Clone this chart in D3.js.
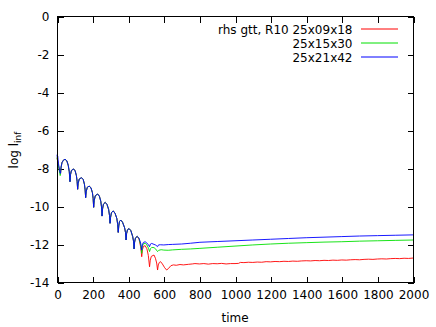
<!DOCTYPE html>
<html><head><meta charset="utf-8">
<script src="https://cdn.jsdelivr.net/npm/d3@7"></script>
<style>
html,body{margin:0;padding:0;background:#fff;}
svg{display:block;}
text{font-family:"DejaVu Sans",sans-serif;font-size:12px;fill:#000;}
</style></head>
<body>
<script>
const xTicks = [0,200,400,600,800,1000,1200,1400,1600,1800,2000];
const yTicks = [0,-2,-4,-6,-8,-10,-12,-14];
const seriesNames = ["rhs gtt, R10 25x09x18","25x15x30","25x21x42"];
const seriesColors = ["#ff0000","#00e000","#0000ff"];

// shared oscillating decay
const early = [[20,-8.28],[23,-7.95],[28,-7.72],[35,-7.6],[45,-7.54],[55,-7.62],[63,-7.85],[69,-8.2],[73,-8.72],
[76,-8.35],[81,-8.13],[93,-8.05],[102,-8.15],[109,-8.4],[113,-8.7],[116,-9.12],
[119,-8.8],[125,-8.58],[138,-8.51],[147,-8.6],[154,-8.85],[158,-9.15],[161,-9.56],
[164,-9.25],[170,-9.02],[181,-8.95],[191,-9.05],[199,-9.3],[203,-9.6],[206,-10.07],
[209,-9.72],[215,-9.46],[228,-9.37],[238,-9.48],[246,-9.75],[250,-10.05],[253,-10.53],
[256,-10.15],[261,-9.9],[271,-9.81],[281,-9.92],[290,-10.18],[295,-10.5],[298,-10.91],
[301,-10.6],[306,-10.35],[316,-10.26],[326,-10.38],[336,-10.65],[341,-10.97],[344,-11.39],
[347,-11.05],[351,-10.82],[358,-10.74],[368,-10.85],[380,-11.15],[385,-11.4],[388,-11.79],
[391,-11.45],[396,-11.25],[405,-11.19],[415,-11.3],[425,-11.6],[430,-11.85],[433,-12.26],
[436,-11.9],[441,-11.68],[451,-11.6]];

const redStart = [[0,-7.5],[4,-7.6],[10,-7.95],[16,-8.2]];
const greenStart = [[0,-7.45],[5,-7.7],[12,-8.1],[18,-8.4]];
const blueStart = [[0,-7.3],[2,-7.45],[4,-7.38],[8,-7.75],[14,-8.1],[18,-8.28]];

const redTail = [[461,-11.75],[470,-12.15],[476,-12.67],[480,-12.3],[486,-12.12],[495,-12.09],[505,-12.25],[513,-12.6],[520,-13.2],[524,-12.85],[530,-12.65],[545,-12.58],[553,-12.75],[560,-13.0],[565,-13.37],[569,-13.1],[575,-12.97],[582,-12.93],[592,-13.05],[605,-13.25],[616,-13.37],[625,-13.3],[640,-13.14],[654,-13.1],[670,-13.12],[691,-13.08],[710,-13.1],[738,-13.07],[760,-13.05],[775,-13.03],[800,-13.05],[825,-13.03],[850,-13.06],[875,-13.03],[900,-13.04],[925,-13.02],[950,-13.05],[975,-13.03],[1000,-13.03],[1020,-13.02],[1030,-12.97],[1050,-12.98],[1075,-12.96],[1100,-12.97],[1125,-12.95],[1150,-12.96],[1175,-12.93],[1200,-12.94],[1225,-12.92],[1250,-12.93],[1275,-12.91],[1300,-12.92],[1325,-12.9],[1350,-12.91],[1375,-12.89],[1400,-12.88],[1425,-12.89],[1450,-12.87],[1475,-12.88],[1500,-12.86],[1525,-12.87],[1550,-12.85],[1575,-12.86],[1600,-12.84],[1625,-12.85],[1650,-12.83],[1675,-12.82],[1700,-12.83],[1725,-12.81],[1750,-12.8],[1775,-12.81],[1800,-12.79],[1825,-12.78],[1850,-12.79],[1875,-12.77],[1900,-12.76],[1925,-12.77],[1950,-12.75],[1975,-12.76],[2000,-12.74]];

const greenTail = [[461,-11.72],[470,-12.05],[476,-12.49],[479,-12.15],[485,-11.99],[495,-11.96],[505,-12.05],[514,-12.22],[520,-12.4],[525,-12.25],[532,-12.18],[545,-12.19],[555,-12.27],[565,-12.4],[572,-12.33],[585,-12.3],[600,-12.32],[625,-12.33],[650,-12.31],[700,-12.28],[750,-12.26],[803,-12.23],[900,-12.17],[1000,-12.11],[1100,-12.05],[1200,-12.0],[1300,-11.96],[1400,-11.93],[1500,-11.9],[1600,-11.88],[1700,-11.85],[1800,-11.83],[1900,-11.81],[2000,-11.79]];

const blueTail = [[461,-11.7],[470,-11.95],[476,-12.32],[479,-12.05],[485,-11.92],[495,-11.88],[505,-11.95],[514,-12.05],[520,-12.14],[525,-12.0],[532,-11.97],[545,-12.02],[555,-12.06],[565,-12.14],[570,-12.05],[580,-12.04],[600,-12.05],[625,-12.03],[650,-12.02],[700,-12.0],[750,-11.96],[803,-11.91],[900,-11.87],[1000,-11.83],[1100,-11.79],[1200,-11.75],[1300,-11.71],[1400,-11.67],[1500,-11.64],[1600,-11.61],[1700,-11.58],[1800,-11.56],[1900,-11.54],[2000,-11.52]];

const series = [
  redStart.concat(early, redTail),
  greenStart.concat(early, greenTail),
  blueStart.concat(early, blueTail)
];

const W = 436, H = 327;
const L = 57.5, R = 413.5, T = 16.5, B = 282.5;
const svg = d3.select("body").append("svg").attr("width", W).attr("height", H);

const x = d3.scaleLinear().domain([0,2000]).range([L,R]);
const y = d3.scaleLinear().domain([-14,0]).range([B,T]);
// curves are drawn on whole-pixel coordinates, like the reference's soft 1px lines
const xc = d3.scaleLinear().domain([0,2000]).range([57,413]);
const yc = d3.scaleLinear().domain([-14,0]).range([282,16]);

const fmt = d => String(d);
function styleAxis(g){
  g.select(".domain").remove();
  g.selectAll(".tick line").attr("stroke","#000").attr("shape-rendering","crispEdges");
  g.selectAll(".tick text").attr("font-family","DejaVu Sans").attr("font-size",12).attr("fill","#000");
}
svg.append("g").attr("transform",`translate(0,${B})`)
  .call(d3.axisBottom(x).tickValues(xTicks).tickFormat(fmt).tickSizeInner(-6).tickSizeOuter(0).tickPadding(7.5))
  .call(styleAxis);
svg.append("g").attr("transform",`translate(0,${T})`)
  .call(d3.axisTop(x).tickValues(xTicks).tickFormat("").tickSizeInner(-6).tickSizeOuter(0))
  .call(styleAxis);
svg.append("g").attr("transform",`translate(${L},0)`)
  .call(d3.axisLeft(y).tickValues(yTicks).tickFormat(fmt).tickSizeInner(-6).tickSizeOuter(0).tickPadding(8))
  .call(styleAxis);
svg.append("g").attr("transform",`translate(${R},0)`)
  .call(d3.axisRight(y).tickValues(yTicks).tickFormat("").tickSizeInner(-6).tickSizeOuter(0))
  .call(styleAxis);

const line = d3.line().x(d => xc(d[0])).y(d => yc(d[1]));
series.forEach((s,i) => {
  svg.append("path").datum(s).attr("d", line)
    .attr("fill","none").attr("stroke", seriesColors[i]).attr("stroke-width",0.9)
    .attr("stroke-linejoin","round");
});

// legend
const legRows = [29, 43, 57];
seriesNames.forEach((n,i) => {
  svg.append("text").attr("x",352.5).attr("y",legRows[i]+4.5).attr("text-anchor","end").text(n);
  svg.append("line").attr("x1",361).attr("x2",398).attr("y1",legRows[i]).attr("y2",legRows[i])
    .attr("stroke",seriesColors[i]).attr("stroke-width",1);
});

// frame
svg.append("rect").attr("x",L).attr("y",T).attr("width",R-L).attr("height",B-T)
  .attr("fill","none").attr("stroke","#000").attr("stroke-width",1).attr("shape-rendering","crispEdges");

// axis titles
svg.append("text").attr("x",235).attr("y",322).attr("text-anchor","middle").text("time");
const yl = svg.append("text").attr("transform","translate(18,150) rotate(-90)").attr("text-anchor","middle");
yl.append("tspan").text("log l");
yl.append("tspan").attr("dy",3).attr("font-size",9).text("inf");
</script>
</body></html>
